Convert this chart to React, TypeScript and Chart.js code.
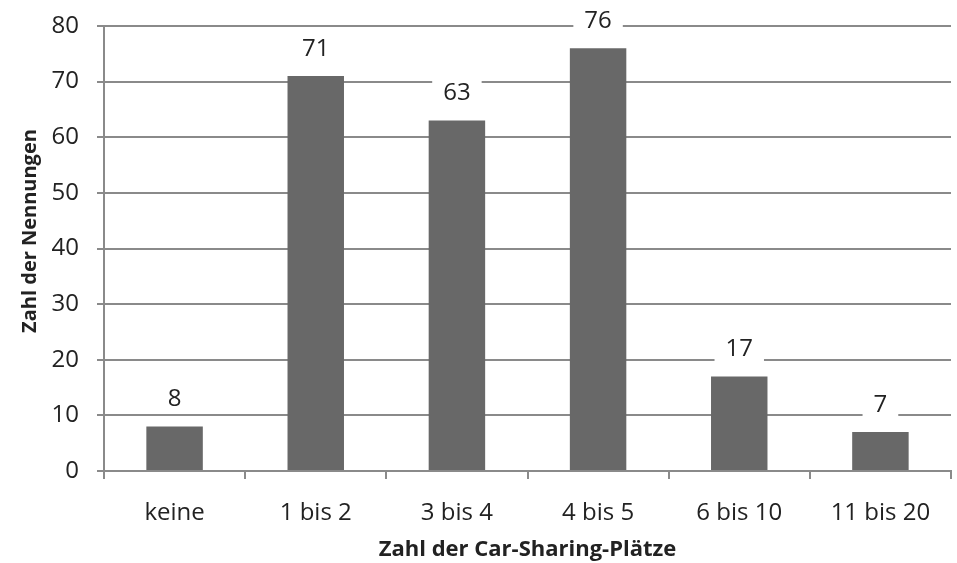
import React, { useEffect, useRef } from "react";
import { Chart, registerables } from "chart.js";

Chart.register(...registerables);

const categories = ["keine", "1 bis 2", "3 bis 4", "4 bis 5", "6 bis 10", "11 bis 20"];
const values = [8, 71, 63, 76, 17, 7];
const yTitle = "Zahl der Nennungen";
const xTitle = "Zahl der Car-Sharing-Plätze";

const FONT = "'Open Sans', sans-serif";
const GRID = "#8a8a8a";

const labelPlugin = {
  id: "barLabels",
  afterDatasetsDraw(chart: any) {
    const ctx = chart.ctx;
    const meta = chart.getDatasetMeta(0);
    ctx.save();
    ctx.font = `24px ${FONT}`;
    ctx.textAlign = "center";
    ctx.textBaseline = "middle";
    meta.data.forEach((bar: any, i: number) => {
      const txt = String(values[i]);
      const w = ctx.measureText(txt).width + 22;
      const cy = bar.y - 27;
      ctx.fillStyle = "#ffffff";
      ctx.fillRect(bar.x - w / 2, cy - 14, w, 28);
      ctx.fillStyle = "#222222";
      ctx.fillText(txt, bar.x, cy);
    });
    // y-axis title
    ctx.save();
    ctx.translate(30, 231);
    ctx.rotate(-Math.PI / 2);
    ctx.font = `bold 20px ${FONT}`;
    ctx.fillStyle = "#222222";
    ctx.fillText(yTitle, 0, 0);
    ctx.restore();
    ctx.restore();
  },
};

export default function App() {
  const ref = useRef<HTMLCanvasElement>(null);
  useEffect(() => {
    if (!ref.current) return;
    const chart = new Chart(ref.current, {
      type: "bar",
      data: {
        labels: categories,
        datasets: [
          {
            data: values,
            backgroundColor: "#686868",
            borderWidth: 0,
            categoryPercentage: 1,
            barPercentage: 0.4,
          },
        ],
      },
      options: {
        animation: false,
        responsive: false,
        maintainAspectRatio: false,
        layout: { padding: { top: 26, right: 6, left: 0, bottom: 0 } },
        plugins: { legend: { display: false }, tooltip: { enabled: false } },
        scales: {
          y: {
            min: 0,
            max: 80,
            ticks: { stepSize: 10, padding: 18, color: "#222", font: { family: FONT, size: 24 } },
            grid: { color: GRID, lineWidth: 2, tickLength: 7 },
            border: { color: GRID, width: 2 },
            afterFit(scale: any) {
              scale.width = 104;
              scale.paddingTop = 0;
              scale.paddingBottom = 0;
            },
          },
          x: {
            ticks: { padding: 20, color: "#222", font: { family: FONT, size: 24 } },
            grid: { offset: true, drawOnChartArea: false, color: GRID, lineWidth: 2, tickLength: 8 },
            border: { color: GRID, width: 2 },
            title: {
              display: true,
              text: xTitle,
              color: "#222",
              font: { family: FONT, size: 22, weight: "bold" },
              padding: { top: 0, bottom: 0 },
            },
            afterFit(scale: any) {
              scale.height = 92;
              scale.paddingLeft = 0;
              scale.paddingRight = 0;
            },
          },
        },
      },
      plugins: [labelPlugin],
    });
    return () => chart.destroy();
  }, []);
  return (
    <div style={{ position: "fixed", left: 0, top: 0, width: 957, height: 563, background: "#fff" }}>
      <canvas ref={ref} width={957} height={563} style={{ display: "block" }} />
    </div>
  );
}
